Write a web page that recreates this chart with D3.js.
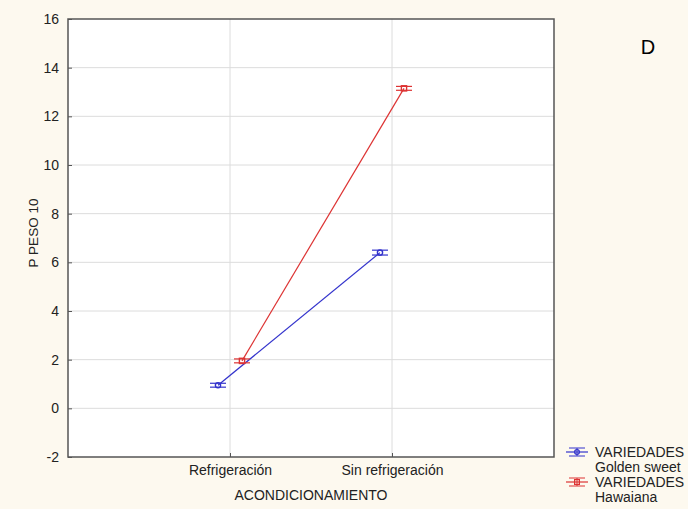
<!DOCTYPE html>
<html>
<head>
<meta charset="utf-8">
<script src="https://cdn.jsdelivr.net/npm/d3@7"></script>
<style>
body { margin: 0; background: #fdf9ef; }
text { font-family: "Liberation Sans", Arial, sans-serif; }
</style>
</head>
<body>
<div id="chart-area"></div>
<script>
var categories = ["Refrigeración", "Sin refrigeración"];
var seriesNames = ["Golden sweet", "Hawaiana"];
var goldenVals = [0.95, 6.4];
var hawaiiVals = [1.95, 13.15];
var goldenErr = [0.08, 0.1];
var hawaiiErr = [0.08, 0.08];
var yTicks = [-2, 0, 2, 4, 6, 8, 10, 12, 14, 16];

var W = 688, H = 509;
var svg = d3.select("#chart-area").append("svg")
    .attr("width", W)
    .attr("height", H);

svg.append("rect").attr("width", W).attr("height", H).attr("fill", "#fdf9ef");

var pLeft = 68, pTop = 19, pRight = 554, pBottom = 457;
var fs = 14;

var x = d3.scalePoint()
    .domain(categories)
    .range([pLeft, pRight])
    .padding(1);

var y = d3.scaleLinear()
    .domain([-2, 16])
    .range([pBottom, pTop]);

svg.append("rect")
    .attr("x", pLeft).attr("y", pTop)
    .attr("width", pRight - pLeft).attr("height", pBottom - pTop)
    .attr("fill", "#fff");

// grid
svg.selectAll(".hg").data(yTicks.slice(1, -1)).enter().append("line")
    .attr("x1", pLeft).attr("x2", pRight)
    .attr("y1", d => y(d)).attr("y2", d => y(d))
    .attr("stroke", "#dcdcdc").attr("stroke-width", 1);
svg.selectAll(".vg").data(categories).enter().append("line")
    .attr("x1", d => x(d)).attr("x2", d => x(d))
    .attr("y1", pTop).attr("y2", pBottom)
    .attr("stroke", "#dcdcdc").attr("stroke-width", 1);

// y axis
var yAxis = svg.append("g")
    .attr("transform", "translate(" + pLeft + ",0)")
    .call(d3.axisLeft(y).tickValues(yTicks).tickSize(-4).tickPadding(9).tickFormat(d => String(d)));
yAxis.select(".domain").remove();
yAxis.selectAll("line").attr("stroke", "#555");
yAxis.selectAll("text").attr("font-size", fs).attr("fill", "#222");

var xAxis = svg.append("g")
    .attr("transform", "translate(0," + pBottom + ")")
    .call(d3.axisBottom(x).tickSize(-4).tickPadding(8));
xAxis.select(".domain").remove();
xAxis.selectAll("line").attr("stroke", "#555");
xAxis.selectAll("text").attr("font-size", fs).attr("fill", "#222");

// frame
svg.append("rect")
    .attr("x", pLeft).attr("y", pTop)
    .attr("width", pRight - pLeft).attr("height", pBottom - pTop)
    .attr("fill", "none").attr("stroke", "#555").attr("stroke-width", 1.5);

svg.append("text")
    .attr("transform", "translate(38,233) rotate(-90)")
    .attr("text-anchor", "middle")
    .attr("font-size", 13.5).attr("fill", "#222")
    .text("P PESO 10");

svg.append("text")
    .attr("x", (pLeft + pRight) / 2).attr("y", 500)
    .attr("text-anchor", "middle")
    .attr("font-size", fs).attr("fill", "#222")
    .text("ACONDICIONAMIENTO");

svg.append("text")
    .attr("x", 648).attr("y", 54)
    .attr("text-anchor", "middle")
    .attr("font-family", "'Open Sans', sans-serif")
    .attr("font-size", 20).attr("fill", "#000")
    .text("D");

var series = [
    { name: seriesNames[0], vals: goldenVals, err: goldenErr, color: "#3333cc", dx: -12, shape: "circle" },
    { name: seriesNames[1], vals: hawaiiVals, err: hawaiiErr, color: "#dd3333", dx: 12, shape: "square" }
];

series.forEach(function(s) {
    var pts = categories.map((c, i) => ({ x: x(c) + s.dx, v: s.vals[i], e: s.err[i] }));
    svg.append("path")
        .datum(pts)
        .attr("fill", "none")
        .attr("stroke", s.color)
        .attr("stroke-width", 1.2)
        .attr("d", d3.line().x(d => d.x).y(d => y(d.v)));
    var g = svg.append("g");
    pts.forEach(function(p) {
        [p.v - p.e, p.v + p.e].forEach(function(v) {
            g.append("line")
                .attr("x1", p.x - 8).attr("x2", p.x + 8)
                .attr("y1", y(v)).attr("y2", y(v))
                .attr("stroke", s.color).attr("stroke-width", 1.2);
        });
        if (s.shape === "circle") {
            g.append("circle").attr("cx", p.x).attr("cy", y(p.v)).attr("r", 2.6)
                .attr("fill", "none").attr("stroke", s.color).attr("stroke-width", 1.4);
        } else {
            g.append("rect").attr("x", p.x - 2.6).attr("y", y(p.v) - 2.6)
                .attr("width", 5.2).attr("height", 5.2)
                .attr("fill", "none").attr("stroke", s.color).attr("stroke-width", 1.4);
        }
    });
});

// legend
var legend = svg.append("g");
series.forEach(function(s, i) {
    var ly = 452 + i * 30;
    var lx = 577;
    legend.append("line").attr("x1", lx - 11).attr("x2", lx + 11)
        .attr("y1", ly).attr("y2", ly).attr("stroke", s.color).attr("stroke-width", 1.2);
    legend.append("line").attr("x1", lx - 8).attr("x2", lx + 8)
        .attr("y1", ly - 4).attr("y2", ly - 4).attr("stroke", s.color);
    legend.append("line").attr("x1", lx - 8).attr("x2", lx + 8)
        .attr("y1", ly + 4).attr("y2", ly + 4).attr("stroke", s.color);
    legend.append("line").attr("x1", lx).attr("x2", lx)
        .attr("y1", ly - 4).attr("y2", ly + 4).attr("stroke", s.color);
    if (s.shape === "circle") {
        legend.append("circle").attr("cx", lx).attr("cy", ly).attr("r", 2.4)
            .attr("fill", "none").attr("stroke", s.color).attr("stroke-width", 1.2);
    } else {
        legend.append("rect").attr("x", lx - 2.4).attr("y", ly - 2.4).attr("width", 4.8).attr("height", 4.8)
            .attr("fill", "none").attr("stroke", s.color).attr("stroke-width", 1.2);
    }
    legend.append("text").attr("x", 595).attr("y", ly + 5)
        .attr("font-size", fs).attr("fill", "#222").text("VARIEDADES");
    legend.append("text").attr("x", 595).attr("y", ly + 20)
        .attr("font-size", fs).attr("fill", "#222").text(s.name);
});
</script>
</body>
</html>
